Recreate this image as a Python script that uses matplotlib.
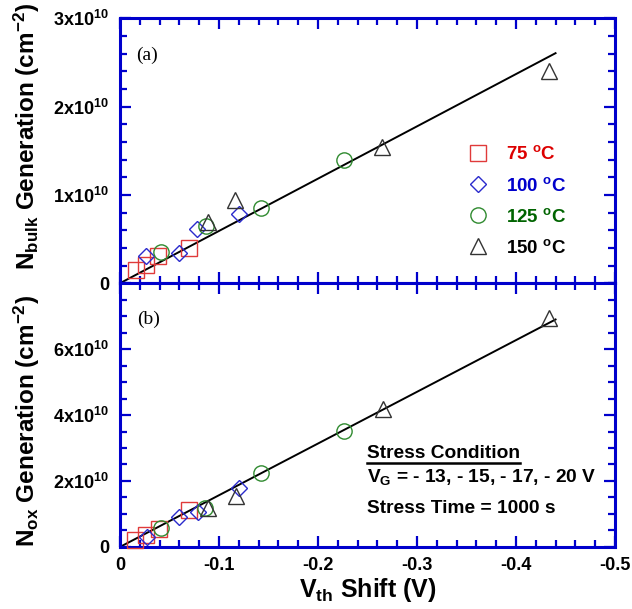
import numpy as np
import matplotlib
matplotlib.use("Agg")
import matplotlib.pyplot as plt
from matplotlib.ticker import MultipleLocator, FixedLocator
from matplotlib.lines import Line2D

plt.rcParams['font.family'] = ['Liberation Sans', 'DejaVu Sans']
plt.rcParams['font.weight'] = 'bold'
plt.rcParams['axes.labelweight'] = 'bold'
plt.rcParams['mathtext.fontset'] = 'custom'
plt.rcParams['mathtext.rm'] = 'Liberation Sans:bold'
plt.rcParams['mathtext.it'] = 'Liberation Sans:bold'
plt.rcParams['mathtext.bf'] = 'Liberation Sans:bold'
plt.rcParams['axes.unicode_minus'] = False

# temperatures
labels = ['75 $^{o}$C', '100 $^{o}$C', '125 $^{o}$C', '150 $^{o}$C']
markers = ['s', 'D', 'o', '^']
mk_colors = ['#E03a3a', '#2a2acc', '#2f8a2f', '#333333']
txt_colors = ['#dd0000', '#0000cc', '#006400', '#000000']
msizes = [11, 8.5, 11, 11]

# (a) N_bulk vs Vth shift
vth_bulk = [
    [-0.0161, -0.0259, -0.0387, -0.0694],
    [-0.0262, -0.0597, -0.0778, -0.1197],
    [-0.0416, -0.0872, -0.1420, -0.2264],
    [-0.0892, -0.1157, -0.2649, -0.4333],
]
nbulk = [
    [0.149e10, 0.202e10, 0.307e10, 0.404e10],
    [0.307e10, 0.345e10, 0.618e10, 0.789e10],
    [0.356e10, 0.644e10, 0.850e10, 1.393e10],
    [0.697e10, 0.944e10, 1.543e10, 2.400e10],
]

# (b) N_ox vs Vth shift
vth_ox = [
    [-0.0151, -0.0257, -0.0389, -0.0697],
    [-0.0269, -0.0600, -0.0792, -0.1197],
    [-0.0412, -0.0860, -0.1422, -0.2264],
    [-0.0892, -0.1174, -0.2656, -0.4333],
]
nox = [
    [0.21e10, 0.36e10, 0.555e10, 1.106e10],
    [0.288e10, 0.918e10, 1.07e10, 1.79e10],
    [0.56e10, 1.167e10, 2.25e10, 3.515e10],
    [1.17e10, 1.545e10, 4.17e10, 6.93e10],
]

# linear fits through origin
fit_x = [0.0, -0.44]
slope_bulk = -5.92e10
slope_ox = -1.568e11

blue = '#0000cc'

fig = plt.figure(figsize=(6.32, 6.09), dpi=100)
ax1 = fig.add_axes([0.19, 0.535, 0.783, 0.435])
ax2 = fig.add_axes([0.19, 0.102, 0.783, 0.433])


def style_axis(ax, ymax, ymajor, yminor, ylabels):
    ax.set_xlim(0, -0.5)
    ax.set_ylim(0, ymax)
    ax.xaxis.set_major_locator(MultipleLocator(0.1))
    ax.xaxis.set_minor_locator(MultipleLocator(0.02))
    ax.yaxis.set_minor_locator(MultipleLocator(yminor))
    for s in ax.spines.values():
        s.set_color(blue)
        s.set_linewidth(2.2)
    ax.tick_params(which='both', direction='in', top=True, right=True,
                   color=blue, width=1.6, labelsize=13)
    ax.tick_params(which='major', length=8)
    ax.tick_params(which='minor', length=5)
    ax.tick_params(axis='y', pad=8)
    ax.tick_params(axis='x', pad=7)
    ticks = [i * ymajor for i in range(len(ylabels))]
    ax.yaxis.set_major_locator(FixedLocator(ticks))
    ax.set_yticklabels(ylabels)


style_axis(ax1, 3e10, 1e10, 0.2e10,
           ['0', '1x10$^{10}$', '2x10$^{10}$', '3x10$^{10}$'])
style_axis(ax2, 8e10, 2e10, 0.5e10,
           ['0', '2x10$^{10}$', '4x10$^{10}$', '6x10$^{10}$'])
ax1.tick_params(axis='x', labelbottom=False)
ax2.set_xticks([0, -0.1, -0.2, -0.3, -0.4, -0.5])
ax2.set_xticklabels(['0', '-0.1', '-0.2', '-0.3', '-0.4', '-0.5'])

fx = np.array(fit_x)
ax1.plot(fx, slope_bulk * fx, color='black', lw=1.4, zorder=1)
ax2.plot(fx, slope_ox * fx, color='black', lw=1.4, zorder=1)

handles = []
for i in range(4):
    h, = ax1.plot(vth_bulk[i], nbulk[i], ls='none', marker=markers[i],
                  ms=msizes[i], mfc='none', mec=mk_colors[i], mew=1.0,
                  zorder=3, clip_on=False)
    ax2.plot(vth_ox[i], nox[i], ls='none', marker=markers[i],
             ms=msizes[i], mfc='none', mec=mk_colors[i], mew=1.0,
             zorder=3, clip_on=False)
    handles.append(h)

leg = ax1.legend(handles, labels, loc='upper left',
                 bbox_to_anchor=(0.705, 0.52), frameon=False, fontsize=13.5,
                 handlelength=1.0, handletextpad=1.0, labelspacing=0.7,
                 borderpad=0, borderaxespad=0)
for t, c in zip(leg.get_texts(), txt_colors):
    t.set_color(c)

ax1.text(0.032, 0.86, '(a)', transform=ax1.transAxes, fontsize=14,
         family='Liberation Serif', weight='normal', va='center')
ax2.text(0.034, 0.864, '(b)', transform=ax2.transAxes, fontsize=14,
         family='Liberation Serif', weight='normal', va='center')

t_sc = ax2.text(0.499, 0.355, 'Stress Condition', transform=ax2.transAxes,
                fontsize=13.8, va='center')
ax2.text(0.499, 0.265, 'V$_{\\mathrm{G}}$ = - 13, - 15, - 17, - 20 V',
         transform=ax2.transAxes, fontsize=13.8, va='center')
ax2.text(0.499, 0.145, 'Stress Time = 1000 s', transform=ax2.transAxes,
         fontsize=13.8, va='center')

ax1.set_ylabel('N$_{\\mathrm{bulk}}$ Generation (cm$^{-2}$)', fontsize=17.5)
ax2.set_ylabel('N$_{\\mathrm{ox}}$ Generation (cm$^{-2}$)', fontsize=17.5)
ax1.yaxis.set_label_coords(-0.158, 0.555)
ax2.yaxis.set_label_coords(-0.158, 0.477)
ax2.set_xlabel('V$_{\\mathrm{th}}$ Shift (V)', fontsize=18, labelpad=2)

# underline for "Stress Condition"
fig.canvas.draw()
bb = t_sc.get_window_extent()
inv = fig.transFigure.inverted()
(x0, y0), (x1, _) = inv.transform([(bb.x0, bb.y0 - 1), (bb.x1, bb.y0)])
fig.add_artist(Line2D([x0, x1], [y0, y0], color='black', lw=1.8,
                      transform=fig.transFigure))

fig.savefig('out.png', dpi=100)
